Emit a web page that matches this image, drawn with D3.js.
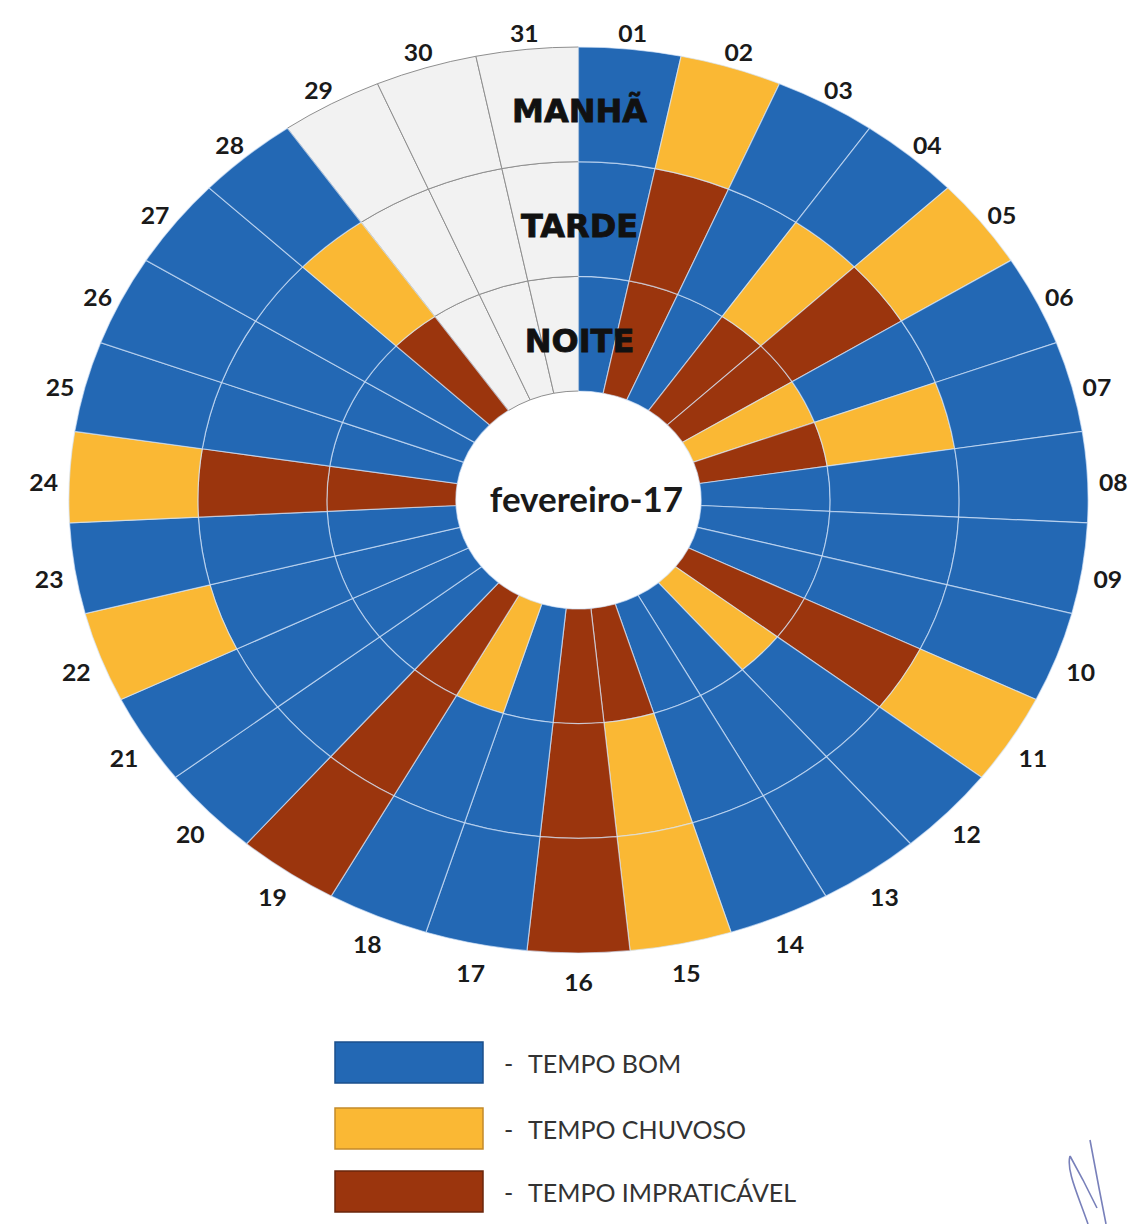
<!DOCTYPE html>
<html><head><meta charset="utf-8">
<script src="https://cdn.jsdelivr.net/npm/d3@7/dist/d3.min.js"></script>
<style>body{margin:0;background:#fff}svg{display:block}</style>
</head><body>
<svg id="chart" width="1144" height="1224"></svg>
<script>
// ---- data ----
const days = ["01","02","03","04","05","06","07","08","09","10","11","12","13","14","15","16","17","18","19","20","21","22","23","24","25","26","27","28","29","30","31"];
// B = tempo bom, C = tempo chuvoso, I = tempo impraticável, "" = sem dia
const manha = ["B","C","B","B","C","B","B","B","B","B","C","B","B","B","C","I","B","B","I","B","B","C","B","C","B","B","B","B","","",""];
const tarde = ["B","I","B","C","I","B","C","B","B","B","I","B","B","B","C","I","B","B","I","B","B","B","B","I","B","B","B","C","","",""];
const noite = ["B","I","B","I","I","C","I","B","B","B","I","C","B","B","I","I","B","C","I","B","B","B","B","I","B","B","B","I","","",""];
const periods = ["NOITE","TARDE","MANHÃ"];           // inner -> outer
const monthLabel = "fevereiro-17";
const legendKeys = ["B","C","I"];
const legendLabels = ["TEMPO BOM","TEMPO CHUVOSO","TEMPO IMPRATICÁVEL"];

// ---- styles ----
const colors = {B:"#2368b4", C:"#fab834", I:"#9b350d", "":"#f2f2f2"};
const borders = {B:"#1b4f8c", C:"#c38a2a", I:"#6a260b"};
const cx = 578.5, cy = 500, sx = 1.125;

const svg = d3.select("#chart");
const angle = d3.scaleBand().domain(days).range([0, 2*Math.PI]);
const radius = d3.scaleLinear().domain([0, 3]).range([109, 453]);
const color = d3.scaleOrdinal().domain(Object.keys(colors)).range(Object.values(colors));

const series = [noite, tarde, manha];
const cells = [];
days.forEach((d, i) => series.forEach((s, r) => cells.push({day: d, ring: r, code: s[i]})));

const arc = d3.arc()
  .innerRadius(d => radius(d.ring))
  .outerRadius(d => radius(d.ring + 1))
  .startAngle(d => angle(d.day))
  .endAngle(d => angle(d.day) + angle.bandwidth());

const g = svg.append("g").attr("transform", `translate(${cx},${cy}) scale(${sx},1)`);

// empty cells (days not in month)
g.selectAll("path.empty").data(cells.filter(c => c.code === "")).join("path")
  .attr("class", "empty").attr("d", arc)
  .attr("fill", colors[""]).attr("stroke", "#8f8f8f").attr("stroke-width", 1)
  .attr("vector-effect", "non-scaling-stroke");

g.selectAll("path.cell").data(cells.filter(c => c.code !== "")).join("path")
  .attr("class", "cell").attr("d", arc)
  .attr("fill", d => color(d.code))
  .attr("stroke", "rgba(215,230,250,0.65)").attr("stroke-width", 1.2)
  .attr("vector-effect", "non-scaling-stroke");

// day labels
const lr = 476;
svg.append("g").selectAll("text").data(days).join("text")
  .attr("transform", d => {
    const a = angle(d) + angle.bandwidth()/2;
    const x = cx + lr*Math.sin(a)*sx, y = cy + 7 - lr*Math.cos(a);
    return `translate(${x},${y}) scale(${sx},1)`;
  })
  .attr("text-anchor", "middle").attr("dominant-baseline", "central")
  .attr("font-family", "Lato, 'Open Sans', sans-serif").attr("font-weight", 700)
  .attr("font-size", 22).attr("fill", "#1a1a1a")
  .text(d => d);

// period labels
svg.append("g").selectAll("text").data(periods).join("text")
  .attr("x", cx + 1).attr("y", (d, i) => cy - radius(i + 0.5) + 7)
  .attr("text-anchor", "middle").attr("dominant-baseline", "central")
  .attr("font-family", "'DejaVu Sans', sans-serif").attr("font-weight", 700)
  .attr("font-size", 32).attr("fill", "#111")
  .attr("stroke", "#111").attr("stroke-width", 0.8)
  .text(d => d);

// centre label
svg.append("text")
  .attr("x", cx + 8).attr("y", cy + 12)
  .attr("text-anchor", "middle")
  .attr("font-family", "Lato, 'Open Sans', sans-serif").attr("font-weight", 700)
  .attr("font-size", 35).attr("fill", "#1a1a1a")
  .text(monthLabel);

// legend
const leg = svg.append("g");
const ly = d3.scaleOrdinal().domain(legendKeys).range([1042, 1108, 1171]);
leg.selectAll("rect").data(legendKeys).join("rect")
  .attr("x", 335).attr("y", d => ly(d)).attr("width", 148).attr("height", 41)
  .attr("fill", d => colors[d]).attr("stroke", d => borders[d]).attr("stroke-width", 1.5);
leg.selectAll("text.dash").data(legendKeys).join("text").attr("class", "dash")
  .attr("x", 504).attr("y", d => ly(d) + 31)
  .attr("font-family", "Lato, sans-serif").attr("font-size", 25).attr("fill", "#333")
  .text("-");
leg.selectAll("text.lab").data(legendKeys).join("text").attr("class", "lab")
  .attr("x", 528).attr("y", d => ly(d) + 31)
  .attr("font-family", "Lato, sans-serif").attr("font-size", 25).attr("fill", "#333")
  .text((d, i) => legendLabels[i]);

// signature mark
svg.append("path")
  .attr("d", "M1070,1156 C1066,1170 1078,1195 1088,1224 M1070,1156 L1083,1180 L1097,1208 M1090,1140 L1099,1188 L1106,1224")
  .attr("fill", "none").attr("stroke", "#4b56a3").attr("stroke-width", 1.6).attr("stroke-opacity", 0.75);
</script>
</body></html>
